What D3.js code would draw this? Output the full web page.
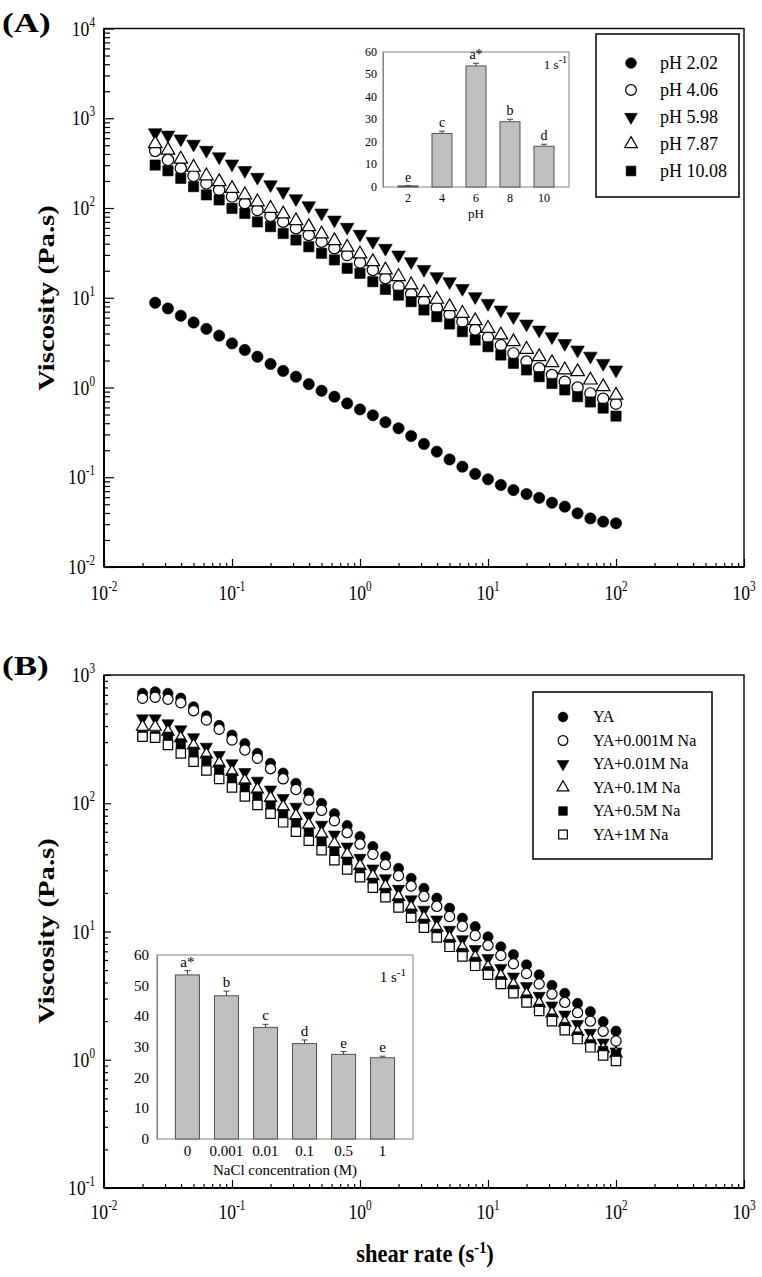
<!DOCTYPE html>
<html><head><meta charset="utf-8">
<script src="https://cdn.jsdelivr.net/npm/d3@7"></script>
<style>
body{margin:0;background:#fff;}
svg{display:block;}
text{font-family:"Liberation Serif","Times New Roman",serif;fill:#000;}
</style>
</head><body>
<svg id="c" width="762" height="1277"></svg>
<script>
// ---------------- DATA ----------------
// Panel A: shear rate sweep (s^-1)
const shearRateA = [0.0251,0.0316,0.0398,0.0501,0.0631,0.0794,0.1,0.126,0.158,0.2,0.251,0.316,0.398,0.501,0.631,0.794,1,1.26,1.58,2,2.51,3.16,3.98,5.01,6.31,7.94,10,12.6,15.8,20,25.1,31.6,39.8,50.1,63.1,79.4,100];
const phSeriesNames = ["pH 2.02","pH 4.06","pH 5.98","pH 7.87","pH 10.08"];
const viscPH202 = [8.8,7.6,6.3,5.3,4.5,3.78,3.10,2.62,2.20,1.83,1.53,1.32,1.09,0.92,0.79,0.665,0.57,0.49,0.41,0.351,0.288,0.235,0.193,0.158,0.131,0.109,0.0948,0.082,0.072,0.065,0.059,0.052,0.047,0.0396,0.0348,0.032,0.0307];
const viscPH406 = [432,343,277,228,188,159,134,113,95,81.5,70.3,59.4,50.0,42.1,35.6,29.9,24.6,20.4,16.5,13.3,11.0,9.1,7.7,6.5,5.4,4.4,3.6,2.95,2.4,1.95,1.64,1.38,1.16,1.0,0.86,0.75,0.66];
const viscPH598 = [690,650,590,515,440,372,310,262,220,182,152,127,106,88,73.5,61,51,42.5,35.6,30.0,25.3,20.7,17.2,15.1,12.7,10.3,8.67,7.31,6.15,5.10,4.37,3.68,3.10,2.62,2.24,1.86,1.57];
const viscPH787 = [520,440,350,284,228,196,165,140,117,99,85.7,72.1,61.9,51.3,43.2,36.5,30.7,25.2,20.4,17.2,13.9,11.4,9.6,7.94,6.70,5.55,4.56,3.85,3.24,2.66,2.20,1.89,1.57,1.50,1.21,1.02,0.82];
const viscPH1008 = [301,260,214,173,140,123,99,87,70,62,52,44,37,31.3,26.4,21.3,18.7,15.1,12.4,10.7,9.04,7.31,6.15,5.10,4.19,3.38,2.85,2.30,1.86,1.57,1.32,1.11,0.94,0.79,0.69,0.59,0.48];

// Panel B
const shearRateB = [0.02,0.0251,0.0316,0.0398,0.0501,0.0631,0.0794,0.1,0.126,0.158,0.2,0.251,0.316,0.398,0.501,0.631,0.794,1,1.26,1.58,2,2.51,3.16,3.98,5.01,6.31,7.94,10,12.6,15.8,20,25.1,31.6,39.8,50.1,63.1,79.4,100];
const naSeriesNames = ["YA","YA+0.001M Na","YA+0.01M Na","YA+0.1M Na","YA+0.5M Na","YA+1M Na"];
const viscYA = [720,740,720,660,565,480,405,340,292,245,205,172,143,120,100,83,67,55,46,38.3,31.1,26,21.7,18.2,15.2,12.7,10.9,9.1,7.6,6.6,5.5,4.6,3.8,3.3,2.75,2.37,1.98,1.67];
const viscNa0001 = [658,670,646,608,527,446,377,311,260,224,186,155,128,106,88,73,59,48,40,33.2,27.2,22.6,18.8,15.7,13.1,11.0,9.3,7.8,6.5,5.6,4.7,3.9,3.25,2.8,2.33,2.0,1.67,1.40];
const viscNa001 = [459,459,420,377,327,276,238,205,175,150,128,110,94,80,68,57,46,37.5,31,26,21.5,17.8,14.8,12.4,10.3,8.7,7.3,6.2,5.2,4.45,3.75,3.15,2.65,2.25,1.9,1.62,1.36,1.16];
const viscNa01 = [395,395,362,322,282,240,205,176,150,128,110,94,80,68,58,48.5,40,32.5,27,22.5,18.6,15.4,12.8,10.7,8.9,7.5,6.3,5.3,4.5,3.85,3.25,2.75,2.3,1.95,1.65,1.42,1.22,1.12];
const viscNa05 = [340,335,330,293,252,215,183,157,133,113,96,82,70,59,50,42,35,28.8,24,20,16.6,13.8,11.5,9.6,8.0,6.8,5.8,4.9,4.1,3.5,2.95,2.5,2.1,1.8,1.52,1.32,1.17,1.10];
const viscNa1 = [330,324,285,245,211,180,155,133,113,97,83,71,60,51,43,36,30.5,26.5,22,18.5,15.4,12.8,10.7,9.0,7.6,6.4,5.4,4.6,3.9,3.3,2.8,2.4,2.0,1.7,1.45,1.25,1.08,0.98];

// Insets: viscosity at 1 s^-1
const phCats = ["2","4","6","8","10"];
const phVisc1 = [0.5,23.8,53.8,29.0,18.1];
const phErr = [0.1,1.0,1.2,1.1,0.9];
const phLetters = ["e","c","a*","b","d"];
const naclCats = ["0","0.001","0.01","0.1","0.5","1"];
const naclVisc1 = [53.5,46.7,36.4,31.1,27.6,26.5];
const naclErr = [1.4,1.5,1.0,1.2,0.9,0.5];
const naclLetters = ["a*","b","c","d","e","e"];
const insetTicks = [0,10,20,30,40,50,60];

// ---------------- HELPERS ----------------
const svg = d3.select("#c");

function drawText(parent, x, y, parts, o = {}) {
  let tr = `translate(${x},${y})`;
  if (o.rot) tr += ` rotate(${o.rot})`;
  if (o.sx && o.sx !== 1) tr += ` scale(${o.sx},1)`;
  const size = o.size || 16;
  const t = parent.append("text").attr("transform", tr)
    .attr("text-anchor", o.anchor || "start")
    .attr("font-size", size)
    .attr("font-weight", o.weight || "normal");
  const supSize = o.supSize || Math.round(size * 0.65);
  const rise = o.rise || Math.round(size * 0.42);
  let prevSup = false;
  parts.forEach(p => {
    const isSup = typeof p === "object";
    const s = isSup ? p.sup : p;
    const ts = t.append("tspan").text(s);
    if (isSup) ts.attr("font-size", supSize);
    if (isSup && !prevSup) ts.attr("dy", -rise);
    else if (!isSup && prevSup) ts.attr("dy", rise);
    prevSup = isSup;
  });
  return t;
}

const SYM = {
  circle: {type: d3.symbolCircle, rot: 0},
  down: {type: d3.symbolTriangle, rot: 180},
  up: {type: d3.symbolTriangle, rot: 0},
  square: {type: d3.symbolSquare, rot: 0}
};

function symbolPath(sel, kind, filled, sizes) {
  const s = SYM[kind];
  sel.attr("d", d3.symbol().type(s.type).size(sizes[kind]))
    .attr("fill", filled ? "#000" : "#fff")
    .attr("stroke", "#000")
    .attr("stroke-width", filled ? 0.6 : 1.2);
}

function logPanel(o) {
  const x = d3.scaleLog().domain([1e-2, 1e3]).range([104, 744]);
  const y = d3.scaleLog().domain(o.ydom).range([o.bottom, o.top]);
  const g = svg.append("g");
  const eLo = Math.round(Math.log10(o.ydom[0])), eHi = Math.round(Math.log10(o.ydom[1]));
  const yMaj = d3.range(eLo, eHi + 1).map(e => Math.pow(10, e));
  const yMin = [];
  d3.range(eLo, eHi).forEach(e => { for (let m = 2; m <= 9; m++) yMin.push(m * Math.pow(10, e)); });
  const xMaj = d3.range(-2, 4).map(e => Math.pow(10, e));
  const xMin = [];
  d3.range(-2, 3).forEach(e => { for (let m = 2; m <= 9; m++) xMin.push(m * Math.pow(10, e)); });

  const styleAxis = a => { a.select(".domain").remove(); a.selectAll("line").attr("stroke", "#000").attr("stroke-width", 1.2); };
  g.append("g").attr("transform", `translate(0,${o.bottom})`)
    .call(d3.axisBottom(x).tickValues(xMaj).tickSize(-o.xMaj).tickSizeOuter(0).tickFormat("")).call(styleAxis);
  g.append("g").attr("transform", `translate(0,${o.bottom})`)
    .call(d3.axisBottom(x).tickValues(xMin).tickSize(-o.xMin).tickSizeOuter(0).tickFormat("")).call(styleAxis);
  g.append("g").attr("transform", `translate(104,0)`)
    .call(d3.axisLeft(y).tickValues(yMaj).tickSize(-o.yMaj).tickSizeOuter(0).tickFormat("")).call(styleAxis);
  g.append("g").attr("transform", `translate(104,0)`)
    .call(d3.axisLeft(y).tickValues(yMin).tickSize(-o.yMin).tickSizeOuter(0).tickFormat("")).call(styleAxis);

  // frame
  g.append("rect").attr("x", 104).attr("y", o.top).attr("width", 640).attr("height", o.bottom - o.top)
    .attr("fill", "none").attr("stroke", "#000").attr("stroke-width", 1.4);
  g.append("line").attr("x1", 104).attr("x2", 744).attr("y1", o.bottom).attr("y2", o.bottom).attr("stroke", "#000").attr("stroke-width", 2);
  g.append("line").attr("x1", 104).attr("x2", 104).attr("y1", o.top).attr("y2", o.bottom).attr("stroke", "#000").attr("stroke-width", 2);

  // tick labels
  xMaj.forEach(v => drawText(g, x(v), o.xLabelY, ["10", {sup: String(Math.round(Math.log10(v)))}],
    {anchor: "middle", size: 22, sx: 0.8, supSize: 14, rise: 9}));
  yMaj.forEach(v => drawText(g, 95, y(v) + 7, ["10", {sup: String(Math.round(Math.log10(v)))}],
    {anchor: "end", size: 22, sx: 0.8, supSize: 14, rise: 9}));

  // data
  o.series.forEach(s => {
    g.append("g").selectAll("path").data(s.values).enter().append("path")
      .attr("transform", (d, i) => `translate(${x(o.rates[i])},${y(d)}) rotate(${SYM[s.kind].rot})`)
      .call(sel => symbolPath(sel, s.kind, s.filled, o.sizes));
  });
  return {x, y, g};
}

function legend(o) {
  const g = svg.append("g");
  g.append("rect").attr("x", o.x0).attr("y", o.y0).attr("width", o.w).attr("height", o.h)
    .attr("fill", "#fff").attr("stroke", "#000").attr("stroke-width", 1.5);
  o.series.forEach((s, i) => {
    const yy = o.firstY + i * o.dy;
    g.append("path").attr("transform", `translate(${o.symX},${yy}) rotate(${SYM[s.kind].rot})`)
      .call(sel => symbolPath(sel, s.kind, s.filled, o.sizes));
    drawText(g, o.textX, yy + o.size * 0.33, [s.name], {size: o.size});
  });
}

function inset(o) {
  const g = svg.append("g");
  g.append("rect").attr("x", o.x0).attr("y", o.y0).attr("width", o.x1 - o.x0).attr("height", o.y1 - o.y0)
    .attr("fill", "#fff").attr("stroke", "#808080").attr("stroke-width", 1);
  const x = d3.scalePoint().domain(o.cats).range([o.x0, o.x1]).padding(o.pad);
  const y = d3.scaleLinear().domain([0, 60]).range([o.y1, o.y0]);
  const ax = g.append("g").attr("transform", `translate(${o.x0},0)`)
    .call(d3.axisLeft(y).tickValues(insetTicks).tickSize(0).tickPadding(0).tickFormat(""));
  ax.select(".domain").attr("stroke", "#808080");
  insetTicks.forEach(t => drawText(g, o.yLabX, y(t) + o.yLabSize * 0.33, [String(t)], {anchor: "end", size: o.yLabSize}));
  o.cats.forEach((c, i) => {
    const cx = x(c);
    g.append("rect").attr("x", cx - o.bw / 2).attr("y", y(o.vals[i])).attr("width", o.bw)
      .attr("height", y(0) - y(o.vals[i])).attr("fill", "#c0c0c0").attr("stroke", "#505050").attr("stroke-width", 1);
    const top = y(o.vals[i] + o.errs[i]);
    g.append("line").attr("x1", cx).attr("x2", cx).attr("y1", y(o.vals[i])).attr("y2", top).attr("stroke", "#404040").attr("stroke-width", 1);
    g.append("line").attr("x1", cx - 3).attr("x2", cx + 3).attr("y1", top).attr("y2", top).attr("stroke", "#404040").attr("stroke-width", 1);
    drawText(g, cx, top - 4, [o.letters[i]], {anchor: "middle", size: o.letSize});
    drawText(g, cx, o.xLabY, [c], {anchor: "middle", size: o.xLabSize});
  });
  drawText(g, (o.x0 + o.x1) / 2, o.titleY, [o.title], {anchor: "middle", size: o.titleSize});
  drawText(g, o.rateX, o.rateY, ["1 s", {sup: "-1"}], {anchor: "end", size: o.rateSize, supSize: Math.round(o.rateSize * 0.75), rise: 6});
}

// ---------------- PANEL A ----------------
const sizesA = {circle: 100, down: 80, up: 80, square: 105};
const seriesA = [
  {name: phSeriesNames[0], values: viscPH202, kind: "circle", filled: true},
  {name: phSeriesNames[1], values: viscPH406, kind: "circle", filled: false},
  {name: phSeriesNames[2], values: viscPH598, kind: "down", filled: true},
  {name: phSeriesNames[3], values: viscPH787, kind: "up", filled: false},
  {name: phSeriesNames[4], values: viscPH1008, kind: "square", filled: true}
];
logPanel({ydom: [1e-2, 1e4], top: 28.5, bottom: 567, rates: shearRateA, series: seriesA, sizes: sizesA,
  xMaj: 8, xMin: 4, yMaj: 10, yMin: 6, xLabelY: 600});
legend({x0: 596, y0: 34, w: 143, h: 163, series: seriesA, sizes: {circle: 90, down: 70, up: 70, square: 95},
  symX: 631, textX: 660, firstY: 63, dy: 27, size: 18});
inset({x0: 383, x1: 569, y0: 52, y1: 187, cats: phCats, vals: phVisc1, errs: phErr, letters: phLetters,
  pad: 0.735, bw: 20, yLabX: 377, yLabSize: 12, xLabY: 202, xLabSize: 12, letSize: 14,
  title: "pH", titleY: 218, titleSize: 13, rateX: 567, rateY: 69, rateSize: 13});

drawText(svg, 2, 32, ["(A)"], {size: 28, weight: "bold", sx: 1.25});
drawText(svg, 54, 298, ["Viscosity (Pa.s)"], {rot: -90, anchor: "middle", size: 23, weight: "bold", sx: 1.25});

// ---------------- PANEL B ----------------
const sizesB = {circle: 82, down: 64, up: 64, square: 88};
const seriesB = [
  {name: naSeriesNames[0], values: viscYA, kind: "circle", filled: true},
  {name: naSeriesNames[1], values: viscNa0001, kind: "circle", filled: false},
  {name: naSeriesNames[2], values: viscNa001, kind: "down", filled: true},
  {name: naSeriesNames[3], values: viscNa01, kind: "up", filled: false},
  {name: naSeriesNames[4], values: viscNa05, kind: "square", filled: true},
  {name: naSeriesNames[5], values: viscNa1, kind: "square", filled: false}
];
logPanel({ydom: [1e-1, 1e3], top: 675, bottom: 1188, rates: shearRateB, series: seriesB, sizes: sizesB,
  xMaj: 8, xMin: 4, yMaj: 7, yMin: 4, xLabelY: 1219});
legend({x0: 533, y0: 692, w: 179, h: 167, series: seriesB, sizes: {circle: 75, down: 60, up: 60, square: 75},
  symX: 563, textX: 593, firstY: 717, dy: 23.5, size: 16});
inset({x0: 157, x1: 413, y0: 955, y1: 1139, cats: naclCats, vals: naclVisc1, errs: naclErr, letters: naclLetters,
  pad: 0.78, bw: 24, yLabX: 149, yLabSize: 15, xLabY: 1156, xLabSize: 15, letSize: 15,
  title: "NaCl concentration (M)", titleY: 1175, titleSize: 15, rateX: 406, rateY: 982, rateSize: 15});

drawText(svg, 2, 675, ["(B)"], {size: 28, weight: "bold", sx: 1.25});
drawText(svg, 54, 931, ["Viscosity (Pa.s)"], {rot: -90, anchor: "middle", size: 23, weight: "bold", sx: 1.25});
drawText(svg, 425, 1262, ["shear rate (s", {sup: "-1"}, ")"], {anchor: "middle", size: 25, weight: "bold", sx: 0.9, supSize: 16, rise: 9});
</script>
</body></html>
